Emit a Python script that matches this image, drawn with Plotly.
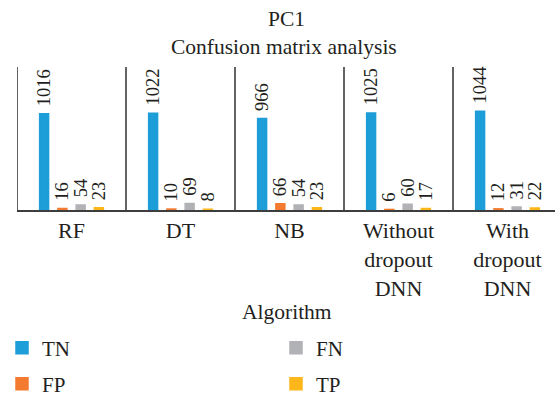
import plotly.graph_objects as go

# Confusion-matrix counts per algorithm (PC1 dataset)
categories = ["RF", "DT", "NB", "Without<br>dropout<br>DNN", "With<br>dropout<br>DNN"]
tn_values = [1016, 1022, 966, 1025, 1044]
fp_values = [16, 10, 66, 6, 12]
fn_values = [54, 69, 54, 60, 31]
tp_values = [23, 8, 23, 17, 22]

W, H = 555, 395
ML, MR, MT, MB = 17, 0, 67, 185
PLOT_W = W - ML - MR
PLOT_H = H - MT - MB

FONT = "Liberation Serif"
TEXT = "#231f20"
LINE = "#3d3d3d"


def px_x(px):
    return (px - ML) / PLOT_W


def px_y(py):
    return (H - MB - py) / PLOT_H


# name, values, colour, legend id, legend position (px from top-left)
series = [
    ("TN", tn_values, "#1e9ed8", "legend", (2, 348)),
    ("FP", fp_values, "#f47a30", "legend2", (2, 384)),
    ("FN", fn_values, "#b1b2b5", "legend3", (276, 348)),
    ("TP", tp_values, "#fdb71a", "legend4", (276, 384)),
]

fig = go.Figure()
legends = {}
for name, vals, color, leg, (lx, ly) in series:
    fig.add_trace(go.Bar(
        x=categories, y=vals, name=name,
        # a thin outline in the fill colour also enlarges the legend swatch
        marker=dict(color=color, line=dict(width=1.5, color=color)),
        text=vals, texttemplate="\u00a0%{text}",
        textposition="outside", textangle=-90, constraintext="none",
        outsidetextfont=dict(family=FONT, size=18.5, color=TEXT),
        cliponaxis=False, legend=leg,
    ))
    legends[leg] = dict(
        orientation="h", xref="container", yref="container",
        x=lx / W, y=1 - ly / H, xanchor="left", yanchor="middle",
        font=dict(family=FONT, size=21, color=TEXT),
        bgcolor="rgba(0,0,0,0)", itemclick=False, itemdoubleclick=False,
    )

# category dividers (the first one doubles as the left axis line)
shapes = []
for i in range(len(categories)):
    shapes.append(dict(type="line", xref="x", yref="paper",
                       x0=i - 0.5, x1=i - 0.5, y0=0, y1=1,
                       line=dict(color=LINE, width=1.6)))


def label(text, x, y):
    return dict(text=text, x=px_x(x), y=px_y(y), xref="paper", yref="paper",
                xanchor="center", yanchor="middle", showarrow=False,
                font=dict(family=FONT, size=21.5, color=TEXT))


annotations = [
    label("PC1", 286, 19),
    label("Confusion matrix analysis", 284, 47),
    label("Algorithm", 287, 312),
]

fig.update_layout(
    width=W, height=H,
    margin=dict(l=ML, r=MR, t=MT, b=MB, pad=0),
    paper_bgcolor="white", plot_bgcolor="white",
    font=dict(family=FONT, size=21, color=TEXT),
    barmode="group", bargap=0.33, bargroupgap=0.51,
    showlegend=True,
    xaxis=dict(range=[-0.5, -0.5 + PLOT_W / 109], showline=True,
               linecolor=LINE, linewidth=2, ticks="", showgrid=False,
               tickfont=dict(family=FONT, size=22, color=TEXT),
               fixedrange=True),
    yaxis=dict(range=[0, 1510], visible=False, fixedrange=True),
    shapes=shapes, annotations=annotations,
    **legends,
)

fig.write_html("out.html")
